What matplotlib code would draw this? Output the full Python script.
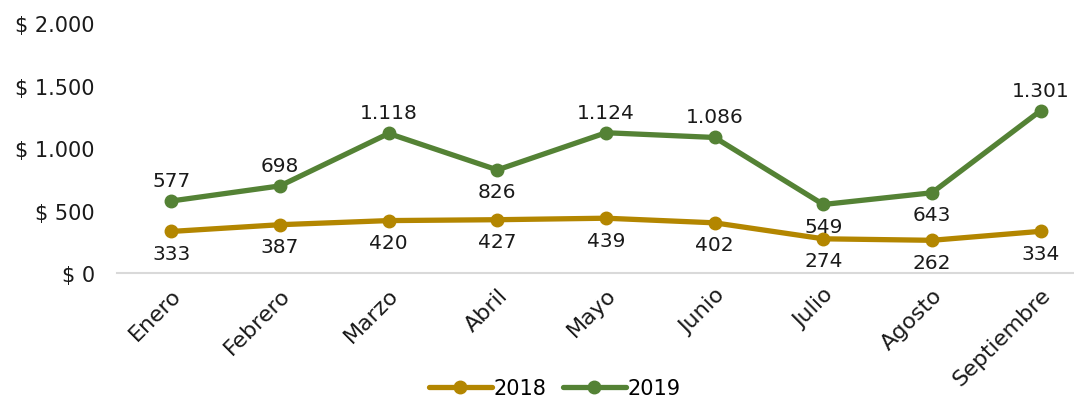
import matplotlib
matplotlib.use("Agg")
import matplotlib.pyplot as plt
from matplotlib.ticker import FuncFormatter

months = ["Enero", "Febrero", "Marzo", "Abril", "Mayo", "Junio",
          "Julio", "Agosto", "Septiembre"]
values_2018 = [333, 387, 420, 427, 439, 402, 274, 262, 334]
values_2019 = [577, 698, 1118, 826, 1124, 1086, 549, 643, 1301]
# label placement for the 2019 series: True = above the point
above_2019 = [True, True, True, False, True, True, False, False, True]

color_2018 = "#B38600"
color_2019 = "#548235"

plt.rcParams["font.family"] = ["DejaVu Sans"]


def fmt_num(v):
    return f"{v:,.0f}".replace(",", ".")


fig = plt.figure(figsize=(10.74, 4.02), dpi=100)
ax = fig.add_axes([117 / 1074, 128 / 402, 978 / 1074, 249.6 / 402])
x = list(range(len(months)))

ax.plot(x, values_2018, color=color_2018, lw=3.8, marker="o", ms=9,
        label="2018", solid_capstyle="round", zorder=3)
ax.plot(x, values_2019, color=color_2019, lw=3.8, marker="o", ms=9,
        label="2019", solid_capstyle="round", zorder=3)

for xi, v in zip(x, values_2018):
    ax.annotate(fmt_num(v), (xi, v), xytext=(0, -9), textcoords="offset points",
                ha="center", va="top", fontsize=14.5, color="#1a1a1a")
for xi, v, up in zip(x, values_2019, above_2019):
    ax.annotate(fmt_num(v), (xi, v), xytext=(0, 8 if up else -9),
                textcoords="offset points", ha="center",
                va="bottom" if up else "top", fontsize=14.5, color="#1a1a1a")

ax.set_xlim(-0.5, len(months) - 0.5)
ax.set_ylim(0, 2000)
ax.set_yticks([0, 500, 1000, 1500, 2000])
ax.yaxis.set_major_formatter(FuncFormatter(lambda v, _: "$ " + fmt_num(v)))
ax.set_xticks(x)
ax.set_xticklabels(months, rotation=45, ha="right", rotation_mode="anchor")
ax.tick_params(axis="both", length=0, colors="#1a1a1a")
ax.tick_params(axis="x", pad=8, labelsize=16)
ax.tick_params(axis="y", pad=16, labelsize=15)

for side in ["top", "right", "left"]:
    ax.spines[side].set_visible(False)
ax.spines["bottom"].set_color("#D9D9D9")
ax.spines["bottom"].set_linewidth(1.5)
ax.patch.set_alpha(0)

fig.legend(loc="lower center", bbox_to_anchor=(555 / 1074, -0.04), ncol=2,
           frameon=False, fontsize=15, handlelength=3.0, handletextpad=0.1,
           columnspacing=0.8)

fig.savefig("out.png", dpi=100, facecolor="white")
